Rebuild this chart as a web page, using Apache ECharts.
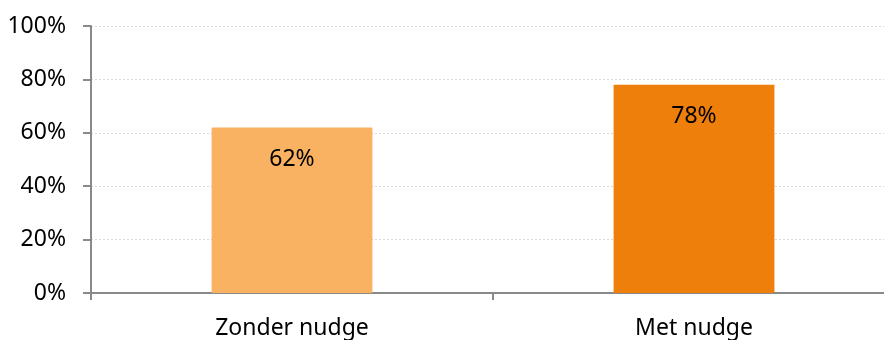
<!DOCTYPE html>
<html>
<head>
<meta charset="utf-8">
<script src="https://cdn.jsdelivr.net/npm/echarts@6/dist/echarts.min.js"></script>
<style>
  html, body { margin: 0; padding: 0; background: #fff; }
  #chart { width: 884px; height: 340px; }
</style>
</head>
<body>
<div id="chart"></div>
<script>
// Share of participants, with and without the nudge
const categories = ['Zonder nudge', 'Met nudge'];
const values = [62, 78];
const barColors = ['#F9B262', '#EE7F0B'];
const yTicks = [0, 20, 40, 60, 80, 100];

const chart = echarts.init(document.getElementById('chart'));
const font = 'Noto Sans';

chart.setOption({
  animation: false,
  grid: { left: 91, width: 804, top: 26, bottom: 47, containLabel: false, outerBoundsMode: 'none' },
  xAxis: {
    type: 'category',
    data: categories,
    axisLine: { lineStyle: { color: '#898989', width: 2 } },
    axisTick: { show: true, length: 7, lineStyle: { color: '#898989', width: 2 } },
    axisLabel: { color: '#000', fontFamily: font, fontSize: 23, margin: 24 }
  },
  yAxis: {
    type: 'value',
    min: 0,
    max: 100,
    interval: 20,
    axisLine: { show: true, lineStyle: { color: '#898989', width: 2 } },
    axisTick: { show: true, length: 8, lineStyle: { color: '#898989', width: 2 } },
    axisLabel: {
      color: '#000', fontFamily: font, fontSize: 23, margin: 25,
      formatter: v => yTicks.includes(v) ? v + '%' : ''
    },
    splitLine: { show: true, lineStyle: { color: '#d9d9d9', type: [2, 2], width: 1 } }
  },
  series: [{
    type: 'bar',
    data: values.map((v, i) => ({ value: v, itemStyle: { color: barColors[i] } })),
    barWidth: '40%',
    label: {
      show: true,
      position: 'insideTop',
      distance: 20,
      color: '#000',
      fontFamily: font,
      fontSize: 23,
      formatter: p => p.value + '%'
    }
  }]
});
</script>
</body>
</html>
